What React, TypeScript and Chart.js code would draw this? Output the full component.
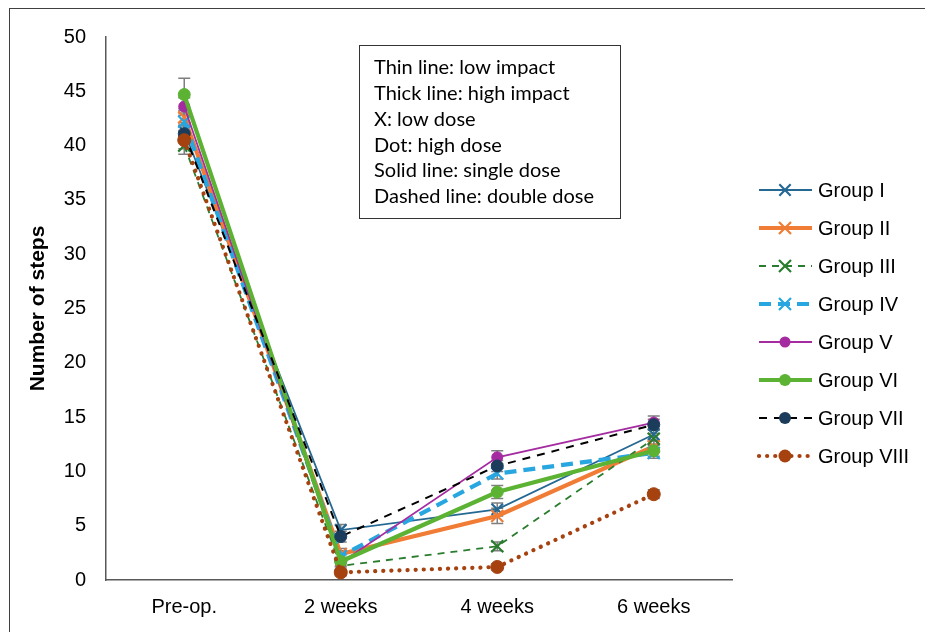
import React, { useEffect, useRef } from 'react';
import { Chart, registerables } from 'chart.js';

Chart.register(...registerables);

const categories = ['Pre-op.', '2 weeks', '4 weeks', '6 weeks'];
const groupNames = ['Group I', 'Group II', 'Group III', 'Group IV', 'Group V', 'Group VI', 'Group VII', 'Group VIII'];

const groupI = [41.3, 4.6, 6.5, 13.4];
const groupII = [42.6, 2.4, 5.9, 12.3];
const groupIII = [40.0, 1.3, 3.1, 13.0];
const groupIV = [42.2, 2.2, 9.8, 11.7];
const groupV = [43.6, 1.6, 11.3, 14.5];
const groupVI = [44.7, 1.7, 8.1, 11.9];
const groupVII = [41.1, 4.0, 10.5, 14.3];
const groupVIII = [40.5, 0.7, 1.2, 7.9];

const errI = [0.8, 0.5, 0.6, 0.5];
const errII = [0.8, 0.5, 0.7, 0.5];
const errIII = [0.8, 0.4, 0.4, 0.5];
const errIV = [0.8, 0.5, 0.5, 0.5];
const errV = [0.8, 0.4, 0.6, 0.6];
const errVI = [1.5, 0.4, 0.6, 0.5];
const errVII = [0.8, 0.5, 0.5, 0.5];
const errVIII = [0.8, 0.3, 0.3, 0.4];

const yTicks = [0, 5, 10, 15, 20, 25, 30, 35, 40, 45, 50];
const yTitle = 'Number of steps';
const noteLines = [
  'Thin line: low impact',
  'Thick line: high impact',
  'X: low dose',
  'Dot: high dose',
  'Solid line: single dose',
  'Dashed line: double dose',
];

const seriesValues = [groupI, groupII, groupIII, groupIV, groupV, groupVI, groupVII, groupVIII];
const seriesErrors = [errI, errII, errIII, errIV, errV, errVI, errVII, errVIII];

type Style = {
  line: string;
  marker: string;
  width: number;
  dash: number[];
  cap: CanvasLineCap;
  point: 'crossRot' | 'circle';
  radius: number;
};

const styles: Style[] = [
  { line: '#256892', marker: '#256892', width: 1.8, dash: [], cap: 'butt', point: 'crossRot', radius: 8 },
  { line: '#f07c35', marker: '#f07c35', width: 4.2, dash: [], cap: 'butt', point: 'crossRot', radius: 8.5 },
  { line: '#2a7d2e', marker: '#2a7d2e', width: 1.8, dash: [7, 6], cap: 'butt', point: 'crossRot', radius: 8.5 },
  { line: '#28a6df', marker: '#28a6df', width: 4.2, dash: [12, 7], cap: 'butt', point: 'crossRot', radius: 8.5 },
  { line: '#a42ba0', marker: '#a42ba0', width: 1.8, dash: [], cap: 'butt', point: 'circle', radius: 5.5 },
  { line: '#5cb233', marker: '#5cb233', width: 4.2, dash: [], cap: 'butt', point: 'circle', radius: 6 },
  { line: '#000000', marker: '#1b3d5b', width: 2, dash: [8, 7], cap: 'butt', point: 'circle', radius: 6 },
  { line: '#a5420f', marker: '#a5420f', width: 4.2, dash: [0.1, 8], cap: 'round', point: 'circle', radius: 6.5 },
];

const FONT = '"Liberation Sans", Arial, Helvetica, sans-serif';

function drawMarker(ctx: CanvasRenderingContext2D, st: Style, x: number, y: number) {
  ctx.save();
  ctx.setLineDash([]);
  ctx.strokeStyle = st.marker;
  ctx.fillStyle = st.marker;
  if (st.point === 'circle') {
    ctx.beginPath();
    ctx.arc(x, y, st.radius, 0, Math.PI * 2);
    ctx.fill();
  } else {
    const r = st.radius * Math.SQRT1_2;
    ctx.lineWidth = 2.2;
    ctx.lineCap = 'butt';
    ctx.beginPath();
    ctx.moveTo(x - r, y - r);
    ctx.lineTo(x + r, y + r);
    ctx.moveTo(x - r, y + r);
    ctx.lineTo(x + r, y - r);
    ctx.stroke();
  }
  ctx.restore();
}

const errorBarPlugin = {
  id: 'errorBars',
  beforeDatasetsDraw(chart: any) {
    const ctx: CanvasRenderingContext2D = chart.ctx;
    const ys = chart.scales.y;
    ctx.save();
    ctx.strokeStyle = '#7f7f7f';
    ctx.lineWidth = 1.5;
    seriesValues.forEach((vals, i) => {
      const meta = chart.getDatasetMeta(i);
      vals.forEach((v, j) => {
        const e = seriesErrors[i][j];
        const x = meta.data[j].x;
        const yt = ys.getPixelForValue(v + e);
        const yb = ys.getPixelForValue(v - e);
        ctx.beginPath();
        ctx.moveTo(x, yt);
        ctx.lineTo(x, yb);
        ctx.moveTo(x - 6, yt);
        ctx.lineTo(x + 6, yt);
        ctx.moveTo(x - 6, yb);
        ctx.lineTo(x + 6, yb);
        ctx.stroke();
      });
    });
    ctx.restore();
  },
};

const decorPlugin = {
  id: 'decor',
  afterDraw(chart: any) {
    const ctx: CanvasRenderingContext2D = chart.ctx;
    const area = chart.chartArea;
    ctx.save();
    // outer frame
    ctx.strokeStyle = '#404040';
    ctx.lineWidth = 1;
    ctx.strokeRect(9.5, 8.5, 1200, 1200);

    // note box
    ctx.strokeStyle = '#333333';
    ctx.strokeRect(359.5, 45.5, 261, 173);
    ctx.fillStyle = '#000000';
    ctx.font = '20px Lato, "Noto Sans", sans-serif';
    ctx.textBaseline = 'middle';
    ctx.textAlign = 'left';
    noteLines.forEach((t, i) => {
      ctx.fillText(t, 374, 68 + i * 25.7);
    });

    // legend
    const lx0 = area.right + 27;
    const lx1 = area.right + 80;
    const mx = area.right + 53;
    const tx = area.right + 86;
    groupNames.forEach((name, i) => {
      const st = styles[i];
      const y = 190 + i * 38;
      ctx.save();
      ctx.strokeStyle = st.line;
      ctx.lineWidth = st.width;
      ctx.lineCap = st.cap;
      ctx.setLineDash(st.dash);
      ctx.beginPath();
      ctx.moveTo(lx0, y);
      ctx.lineTo(lx1, y);
      ctx.stroke();
      ctx.restore();
      drawMarker(ctx, st, mx, y);
      ctx.fillStyle = '#000000';
      ctx.font = '20px ' + FONT;
      ctx.textBaseline = 'middle';
      ctx.fillText(name, tx, y + 1);
    });
    ctx.restore();
  },
};

export default function App() {
  const ref = useRef<HTMLCanvasElement>(null);
  useEffect(() => {
    if (!ref.current) return;
    const datasets = seriesValues.map((vals, i) => {
      const st = styles[i];
      return {
        label: groupNames[i],
        data: vals,
        borderColor: st.line,
        backgroundColor: st.marker,
        borderWidth: st.width,
        borderDash: st.dash,
        borderCapStyle: st.cap,
        pointStyle: st.point,
        pointRadius: st.radius,
        pointHoverRadius: st.radius,
        pointBackgroundColor: st.marker,
        pointBorderColor: st.marker,
        pointBorderWidth: st.point === 'crossRot' ? 2.2 : 1,
        tension: 0,
        fill: false,
        order: 7 - i,
      };
    });
    const chart = new Chart(ref.current, {
      type: 'line',
      data: { labels: categories, datasets: datasets as any },
      options: {
        responsive: false,
        animation: false,
        layout: { padding: { top: 37, right: 193, left: 0, bottom: 0 } },
        plugins: { legend: { display: false }, tooltip: { enabled: false } },
        scales: {
          x: {
            offset: true,
            grid: { display: false, drawTicks: false },
            border: { display: true, color: '#595959', width: 1.5 },
            ticks: { color: '#000000', font: { family: FONT, size: 20 }, padding: 15 },
            afterFit: (s: any) => { s.height = 52; },
          },
          y: {
            min: 0,
            max: 50,
            afterBuildTicks: (s: any) => { s.ticks = yTicks.map((v) => ({ value: v })); },
            grid: { display: false, drawTicks: false },
            border: { display: true, color: '#595959', width: 1.5 },
            ticks: { color: '#000000', font: { family: FONT, size: 20 }, padding: 20 },
            title: {
              display: true,
              text: yTitle,
              color: '#000000',
              font: { family: FONT, size: 21, weight: 'bold' },
              padding: { top: 26, bottom: 0 },
            },
            afterFit: (s: any) => { s.width = 106; },
          },
        },
      },
      plugins: [errorBarPlugin, decorPlugin],
    });
    return () => chart.destroy();
  }, []);
  return (
    <div style={{ position: 'absolute', left: 0, top: 0, width: 925, height: 632, background: '#ffffff' }}>
      <canvas ref={ref} width={925} height={632} />
    </div>
  );
}
